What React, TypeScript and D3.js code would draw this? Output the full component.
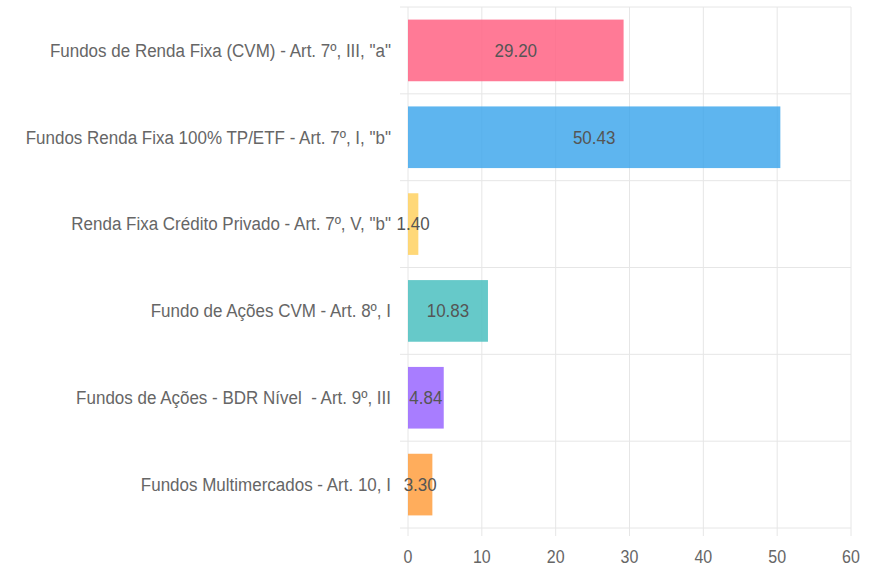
import React from "react";
import * as d3 from "d3";

const categories = [
  'Fundos de Renda Fixa (CVM) - Art. 7º, III, "a"',
  'Fundos Renda Fixa 100% TP/ETF - Art. 7º, I, "b"',
  'Renda Fixa Crédito Privado - Art. 7º, V, "b"',
  "Fundo de Ações CVM - Art. 8º, I",
  "Fundos de Ações - BDR Nível  - Art. 9º, III",
  "Fundos Multimercados - Art. 10, I",
];
const values = [29.2, 50.43, 1.4, 10.83, 4.84, 3.3];
const colors = [
  "rgba(255,99,132,0.85)",
  "rgba(54,162,235,0.8)",
  "rgba(255,206,86,0.8)",
  "rgba(75,192,192,0.85)",
  "rgba(153,102,255,0.85)",
  "rgba(255,159,64,0.85)",
];
const xTicks = [0, 10, 20, 30, 40, 50, 60];

const W = 875;
const H = 567;
const left = 408;
const right = 851;
const top = 7;
const bottom = 528;

export default function App() {
  const x = d3.scaleLinear().domain([0, 60]).range([left, right]);
  const y = d3.scaleBand<string>().domain(categories).range([top, bottom]).paddingInner(0).paddingOuter(0);
  const bw = y.bandwidth();
  const barH = bw * 0.71;
  const font = "'Liberation Sans', Arial, sans-serif";
  const grid = "#e6e6e6";
  const sy = 1.12;
  const stretch = (cx: number, cy: number) =>
    `translate(${cx},${cy}) scale(1,${sy}) translate(${-cx},${-cy})`;
  return (
    <svg width={W} height={H} style={{ position: "absolute", left: 0, top: 0, background: "#fff" }}>
      {xTicks.map((t) => (
        <line key={"v" + t} x1={x(t)} x2={x(t)} y1={top} y2={bottom + 8} stroke={grid} strokeWidth={1} />
      ))}
      {categories.map((c, i) => (
        <line key={"h" + i} x1={left - 8} x2={right} y1={y(c)!} y2={y(c)!} stroke={grid} strokeWidth={1} />
      ))}
      <line x1={left - 8} x2={right} y1={bottom} y2={bottom} stroke={grid} strokeWidth={1} />
      {categories.map((c, i) => (
        <rect
          key={"b" + i}
          x={x(0)}
          y={y(c)! + (bw - barH) / 2}
          width={x(values[i]) - x(0)}
          height={barH}
          fill={colors[i]}
        />
      ))}
      {categories.map((c, i) => {
        const cy = y(c)! + bw / 2;
        return (
          <text
            key={"l" + i}
            x={left - 17}
            y={cy}
            textAnchor="end"
            dominantBaseline="central"
            fontFamily={font}
            fontSize={17}
            fill="#666"
            style={{ whiteSpace: "pre" }}
            transform={stretch(left - 17, cy)}
          >
            {c}
          </text>
        );
      })}
      {categories.map((c, i) => {
        const cx = (x(0) + x(values[i])) / 2;
        const cy = y(c)! + bw / 2;
        return (
          <text
            key={"v" + i}
            x={cx}
            y={cy}
            textAnchor="middle"
            dominantBaseline="central"
            fontFamily={font}
            fontSize={17}
            fill="#555"
            transform={stretch(cx, cy)}
          >
            {values[i].toFixed(2)}
          </text>
        );
      })}
      {xTicks.map((t) => (
        <text
          key={"t" + t}
          x={x(t)}
          y={557}
          textAnchor="middle"
          dominantBaseline="central"
          fontFamily={font}
          fontSize={16}
          fill="#666"
          transform={stretch(x(t), 557)}
        >
          {t}
        </text>
      ))}
    </svg>
  );
}
